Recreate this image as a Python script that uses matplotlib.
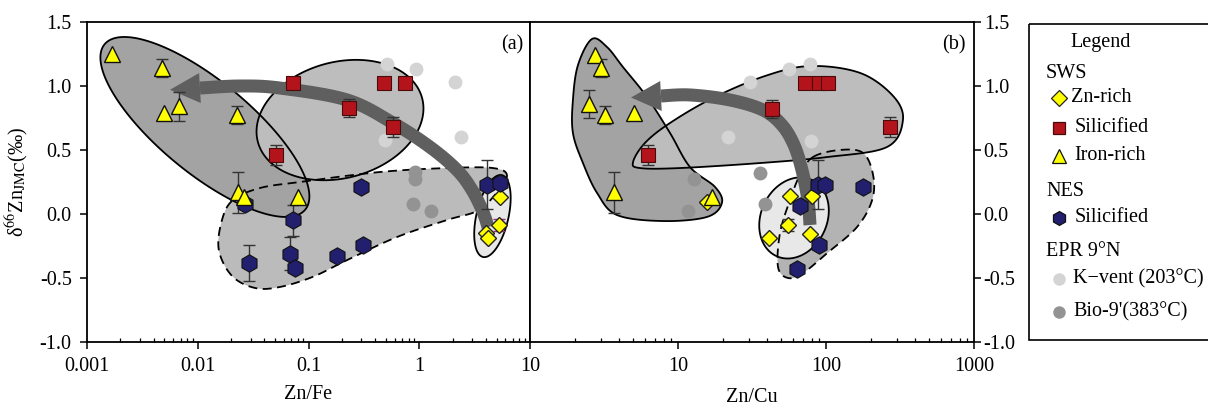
import numpy as np
import matplotlib
matplotlib.use('Agg')
import matplotlib.pyplot as plt
from matplotlib.patches import Polygon, Rectangle
from matplotlib.ticker import LogLocator, NullFormatter

plt.rcParams['font.family'] = ['Liberation Serif', 'DejaVu Serif']
plt.rcParams['mathtext.fontset'] = 'stix'
plt.rcParams['axes.unicode_minus'] = False
plt.rcParams['font.size'] = 14.5

# ---- panel (a): Zn/Fe ----
fe_iron_x = [0.00167, 0.0048, 0.0050, 0.0068, 0.0225, 0.023, 0.026, 0.081]
fe_iron_y = [1.25, 1.14, 0.79, 0.84, 0.77, 0.17, 0.13, 0.135]
fe_iron_err = [0, 0.07, 0, 0.11, 0.07, 0.16, 0, 0]

fe_sil_x = [0.073, 0.48, 0.75, 0.233, 0.58, 0.0506]
fe_sil_y = [1.02, 1.02, 1.02, 0.826, 0.68, 0.46]
fe_sil_err = [0, 0, 0, 0.07, 0.08, 0.08]

fe_zn_x = [5.37, 5.25, 3.98, 4.2]
fe_zn_y = [0.135, -0.086, -0.15, -0.19]
fe_zn_err = [0, 0.05, 0, 0]

fe_nes_x = [0.0267, 0.073, 0.029, 0.068, 0.076, 0.30, 0.31, 0.18, 4.12, 5.37]
fe_nes_y = [0.076, -0.05, -0.385, -0.31, -0.42, 0.21, -0.24, -0.33, 0.23, 0.24]
fe_nes_err = [0, 0.12, 0.14, 0.13, 0, 0.04, 0, 0.04, 0.19, 0]

fe_kvent_x = [0.51, 0.93, 2.09, 2.38, 0.49]
fe_kvent_y = [1.17, 1.13, 1.03, 0.60, 0.58]
fe_bio_x = [0.91, 0.91, 0.87, 1.28]
fe_bio_y = [0.33, 0.27, 0.076, 0.023]

# ---- panel (b): Zn/Cu ----
cu_iron_x = [2.75, 3.02, 2.5, 3.21, 5.07, 3.71, 17.1]
cu_iron_y = [1.24, 1.14, 0.86, 0.77, 0.79, 0.17, 0.13]
cu_iron_err = [0, 0.07, 0.11, 0.07, 0, 0.16, 0]

cu_sil_x = [6.3, 43.4, 72, 90, 103, 270]
cu_sil_y = [0.46, 0.82, 1.02, 1.02, 1.02, 0.68]
cu_sil_err = [0.08, 0.07, 0, 0, 0, 0.08]

cu_zn_x = [15.6, 57, 80, 55, 78, 41]
cu_zn_y = [0.096, 0.14, 0.14, -0.086, -0.16, -0.19]
cu_zn_err = [0, 0, 0, 0.05, 0, 0]

cu_nes_x = [88.7, 98, 178, 67, 89, 64]
cu_nes_y = [0.23, 0.23, 0.21, 0.065, -0.24, -0.43]
cu_nes_err = [0.19, 0, 0.04, 0, 0, 0]

cu_kvent_x = [30.6, 56.5, 78, 79, 21.7]
cu_kvent_y = [1.03, 1.13, 1.17, 0.57, 0.60]
cu_bio_x = [12.9, 11.6, 35.8, 38.9]
cu_bio_y = [0.27, 0.02, 0.32, 0.076]

# ---- outlined zones (data coords) ----
fe_nes_zone_x = [0.0208, 0.0365, 0.0837, 0.442, 1.78, 4.63, 6.2, 4.73, 3.32, 1.78,
                 0.629, 0.223, 0.11, 0.0553, 0.0329, 0.0204, 0.0155, 0.01655]
fe_nes_zone_y = [0.109, 0.203, 0.25, 0.328, 0.359, 0.359, 0.297, 0.141, 0.023, -0.047,
                 -0.18, -0.36, -0.49, -0.57, -0.578, -0.484, -0.281, -0.047]
fe_arrow_x = [4.18, 3.76, 2.995, 2.19, 1.25, 0.579, 0.223, 0.0553, 0.0241, 0.01047]
fe_arrow_y = [-0.102, 0.016, 0.1875, 0.344, 0.523, 0.711, 0.891, 0.984, 1.0, 0.984]

cu_iron_zone_x = [2.62, 3.31, 4.25, 6.17, 8.83, 12.05, 17.8, 19.8, 15.7, 7.92,
                  3.87, 2.84, 2.28, 1.95, 1.95, 2.11]
cu_iron_zone_y = [1.367, 1.305, 1.148, 0.914, 0.633, 0.367, 0.211, 0.086, -0.023, -0.055,
                  -0.008, 0.164, 0.398, 0.633, 0.891, 1.164]
cu_sil_zone_x = [4.97, 5.98, 8.83, 17.2, 38.7, 78, 170, 284, 331, 258, 102, 35.8, 10.3, 5.54]
cu_sil_zone_y = [0.406, 0.555, 0.711, 0.906, 1.078, 1.156, 1.102, 0.922, 0.734, 0.523,
                 0.445, 0.398, 0.359, 0.359]
cu_nes_zone_x = [81.7, 124, 178, 208, 205, 162, 102, 70, 55.4, 47.4, 48.9, 57.1, 66.7]
cu_nes_zone_y = [0.445, 0.5, 0.477, 0.305, 0.109, -0.102, -0.305, -0.461, -0.5, -0.414,
                 -0.148, 0.109, 0.305]
cu_arrow_x = [78, 75.5, 68.8, 60.8, 50.4, 37.5, 22.4, 12.05, 7.67]
cu_arrow_y = [-0.086, 0.109, 0.344, 0.539, 0.695, 0.8125, 0.891, 0.93, 0.922]

DARK = '#a3a3a3'
LIGHT = '#bdbdbd'
PALE = '#e8e8e8'
ARROW = '#5f5f5f'
YEL = '#ffff00'
RED = '#b3141c'
NAVY = '#221f6e'


def catmull(pts, closed=True, n=16):
    pts = np.asarray(pts, float)
    if closed:
        P = np.vstack([pts[-1], pts, pts[0], pts[1]])
    else:
        P = np.vstack([pts[0], pts, pts[-1]])
    out = []
    t = np.linspace(0, 1, n, endpoint=False)[:, None]
    for i in range(1, len(P) - 2):
        p0, p1, p2, p3 = P[i - 1], P[i], P[i + 1], P[i + 2]
        out.append(0.5 * (2 * p1 + (p2 - p0) * t + (2 * p0 - 5 * p1 + 4 * p2 - p3) * t ** 2
                          + (3 * p1 - p0 - 3 * p2 + p3) * t ** 3))
    if not closed:
        out.append(P[-2][None, :])
    return np.vstack(out)


def add_shape(ax, disp, fc, ls, zf):
    xy = ax.transData.inverted().transform(disp)
    ax.add_patch(Polygon(xy, closed=True, fc=fc, ec='none', zorder=zf))
    ax.add_patch(Polygon(xy, closed=True, fill=False, ec='black', lw=1.3,
                         ls=ls, zorder=2.5))


def zone(ax, xs, ys, fc, ls='-', zf=1):
    d = ax.transData.transform(np.column_stack([xs, ys]))
    add_shape(ax, catmull(d), fc, ls, zf)


def oval(ax, cx, cy, a, b, ang, fc, ls='-', zf=1):
    c = ax.transData.transform([[cx, cy]])[0]
    t = np.linspace(0, 2 * np.pi, 240)
    th = np.radians(ang)
    px = c[0] + a * np.cos(t) * np.cos(th) - b * np.sin(t) * np.sin(th)
    py = c[1] + a * np.cos(t) * np.sin(th) + b * np.sin(t) * np.cos(th)
    add_shape(ax, np.column_stack([px, py]), fc, ls, zf)


def bent_arrow(ax, xs, ys, w=13, head_len=30, head_w=30):
    d = ax.transData.transform(np.column_stack([xs, ys]))
    s = catmull(d, closed=False, n=12)
    tang = np.gradient(s, axis=0)
    tang /= np.linalg.norm(tang, axis=1)[:, None]
    nrm = np.column_stack([-tang[:, 1], tang[:, 0]])
    shaft = np.vstack([s + nrm * w / 2, (s - nrm * w / 2)[::-1]])
    inv = ax.transData.inverted()
    ax.add_patch(Polygon(inv.transform(shaft), fc=ARROW, ec='none', zorder=3.5))
    base = s[-1]
    tip = base + tang[-1] * head_len
    head = np.array([base + nrm[-1] * head_w / 2, tip, base - nrm[-1] * head_w / 2])
    ax.add_patch(Polygon(inv.transform(head), fc=ARROW, ec='none', zorder=3.5))


def errs(ax, x, y, e, color='#333333'):
    x, y, e = np.array(x), np.array(y), np.array(e)
    m = e > 0
    ax.errorbar(x[m], y[m], yerr=e[m], fmt='none', ecolor=color, elinewidth=1,
                capsize=4, capthick=1, zorder=4)


def symbols(ax, iron, sil, zn, nes, kv, bio, zn_err_color):
    ax.plot(kv[0], kv[1], ls='none', marker='o', ms=10, mfc='#d4d4d4', mec='none', zorder=3)
    ax.plot(bio[0], bio[1], ls='none', marker='o', ms=10, mfc='#939393', mec='none', zorder=3)
    errs(ax, iron[0], iron[1], iron[2])
    errs(ax, sil[0], sil[1], sil[2])
    errs(ax, nes[0], nes[1], nes[2])
    errs(ax, zn[0], zn[1], zn[2], zn_err_color)
    ax.plot(zn[0], zn[1], ls='none', marker='D', ms=8.5, mfc=YEL, mec='#222222', mew=1, zorder=5)
    ax.plot(nes[0], nes[1], ls='none', marker='h', ms=12.5, mfc=NAVY, mec='#111111', mew=0.8, zorder=5)
    ax.plot(sil[0], sil[1], ls='none', marker='s', ms=9.5, mfc=RED, mec='#4a0a0a', mew=0.8, zorder=5)
    ax.plot(iron[0], iron[1], ls='none', marker='^', ms=11, mfc=YEL, mec='#111111', mew=1, zorder=5)


fig = plt.figure(figsize=(12.08, 4.08), dpi=100)
ax1 = fig.add_axes([87 / 1208, 66 / 408, 443 / 1208, 320 / 408])
ax2 = fig.add_axes([530 / 1208, 66 / 408, 444 / 1208, 320 / 408])

for ax, lo, hi, ticks in [(ax1, 1e-3, 10, [0.001, 0.01, 0.1, 1, 10]),
                          (ax2, 1, 1000, [10, 100, 1000])]:
    ax.set_xscale('log')
    ax.set_xlim(lo, hi)
    ax.set_ylim(-1, 1.5)
    ax.set_xticks(ticks)
    ax.set_xticklabels([('%g' % t) for t in ticks])
    ax.xaxis.set_minor_locator(LogLocator(base=10, subs=np.arange(2, 10)))
    ax.xaxis.set_minor_formatter(NullFormatter())
    ax.set_yticks(np.arange(-1, 1.51, 0.5))
    ax.set_yticklabels(['%.1f' % v for v in np.arange(-1, 1.51, 0.5)])
    ax.tick_params(which='major', direction='out', length=5, width=1.1, pad=6)
    ax.tick_params(axis='x', which='minor', direction='in', length=3, width=0.9)
    for sp in ax.spines.values():
        sp.set_linewidth(1.3)

ax2.yaxis.tick_right()
ax2.tick_params(axis='y', pad=2)

# zones panel (a)
zone(ax1, fe_nes_zone_x, fe_nes_zone_y, '#bbbbbb', ls=(0, (5, 3)), zf=1)
oval(ax1, 0.0116, 0.68, 130, 46, -39.5, DARK, zf=1.2)
oval(ax1, 0.1925, 0.734, 85, 58, 15, LIGHT, zf=1.4)
oval(ax1, 4.58, -0.016, 42, 16, 77, PALE, zf=1.6)
bent_arrow(ax1, fe_arrow_x, fe_arrow_y)

# zones panel (b)
zone(ax2, cu_iron_zone_x, cu_iron_zone_y, DARK, zf=1)
zone(ax2, cu_sil_zone_x, cu_sil_zone_y, LIGHT, zf=1.2)
zone(ax2, cu_nes_zone_x, cu_nes_zone_y, '#b3b3b3', ls=(0, (5, 3)), zf=1.4)
oval(ax2, 60.8, -0.031, 42, 33, 65, PALE, zf=1.6)
bent_arrow(ax2, cu_arrow_x, cu_arrow_y)

symbols(ax1, (fe_iron_x, fe_iron_y, fe_iron_err), (fe_sil_x, fe_sil_y, fe_sil_err),
        (fe_zn_x, fe_zn_y, fe_zn_err), (fe_nes_x, fe_nes_y, fe_nes_err),
        (fe_kvent_x, fe_kvent_y), (fe_bio_x, fe_bio_y), '#9a2b80')
symbols(ax2, (cu_iron_x, cu_iron_y, cu_iron_err), (cu_sil_x, cu_sil_y, cu_sil_err),
        (cu_zn_x, cu_zn_y, cu_zn_err), (cu_nes_x, cu_nes_y, cu_nes_err),
        (cu_kvent_x, cu_kvent_y), (cu_bio_x, cu_bio_y), '#333333')

ax1.text(0.984, 0.928, '(a)', transform=ax1.transAxes, ha='right', va='center')
ax2.text(0.982, 0.928, '(b)', transform=ax2.transAxes, ha='right', va='center')
ax1.text(0.5, -0.165, 'Zn/Fe', transform=ax1.transAxes, ha='center', va='center')
ax2.text(0.5, -0.172, 'Zn/Cu', transform=ax2.transAxes, ha='center', va='center')
ax1.text(-0.158, 0.5, 'δ$^{66}$Zn$_{\\rm JMC}$(‰)', transform=ax1.transAxes,
         rotation=90, ha='center', va='center')

# legend panel
legend_heads = ['SWS', 'NES', 'EPR 9°N']
legend_head_y = [73, 192, 251]
legend_labels = ['Zn-rich', 'Silicified', 'Iron-rich', 'Silicified', 'K\u2212vent (203°C)', "Bio-9'(383°C)"]
legend_y = [98, 128, 156, 218, 279, 312]
legend_text_x = [1071, 1075, 1074, 1075, 1073, 1073]
legend_markers = ['D', 's', '^', 'h', 'o', 'o']
legend_fc = [YEL, RED, YEL, NAVY, '#d4d4d4', '#939393']
legend_ec = ['#222222', '#4a0a0a', '#111111', '#111111', 'none', 'none']
legend_ms = [8, 8, 9.5, 10, 9, 9]

lax = fig.add_axes([0, 0, 1, 1])
lax.set_xlim(0, 1208)
lax.set_ylim(408, 0)
lax.axis('off')
lax.add_patch(Rectangle((1029, 24), 200, 316, fill=False, ec='black', lw=1.2))
lax.text(1070, 42, 'Legend', ha='left', va='center')
for h, yy in zip(legend_heads, legend_head_y):
    lax.text(1046, yy, h, ha='left', va='center')
for lab, yy, tx, mk, fc, ec, ms in zip(legend_labels, legend_y, legend_text_x, legend_markers,
                                       legend_fc, legend_ec, legend_ms):
    lax.plot([1059], [yy], ls='none', marker=mk, ms=ms, mfc=fc, mec=ec, mew=0.9)
    lax.text(tx, yy, lab, ha='left', va='center')

fig.savefig('out.png', dpi=100)
